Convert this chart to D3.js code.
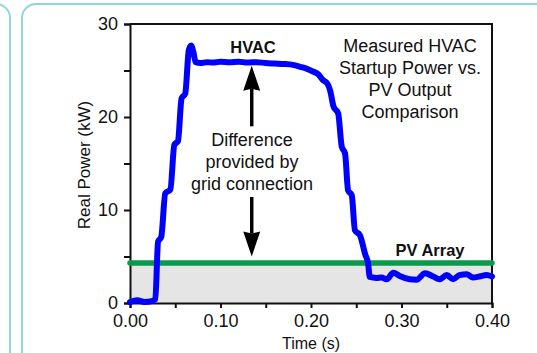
<!DOCTYPE html>
<html>
<head>
<meta charset="utf-8">
<script src="https://cdn.jsdelivr.net/npm/d3@7"></script>
<style>
  body { margin: 0; background: #fff; }
  text { font-family: "Liberation Sans", Arial, sans-serif; fill: #111; }
</style>
</head>
<body>
<div id="chart"></div>
<script>
// measured HVAC startup power (kW) over time (s)
var timeS = [0, 0.008, 0.016, 0.024, 0.028, 0.031, 0.0345, 0.039, 0.0446, 0.049,
  0.053, 0.057, 0.061, 0.065, 0.0675, 0.070, 0.0725, 0.078, 0.085, 0.092,
  0.100, 0.110, 0.120, 0.130, 0.140, 0.150, 0.160, 0.170, 0.180, 0.188,
  0.195, 0.202, 0.208, 0.213, 0.218, 0.221, 0.225, 0.230, 0.234, 0.2376,
  0.241, 0.245, 0.2486, 0.254, 0.260, 0.263, 0.265, 0.272, 0.278, 0.2836,
  0.291, 0.298, 0.309, 0.3166, 0.326, 0.335, 0.342, 0.350, 0.357, 0.364,
  0.372, 0.379, 0.386, 0.394, 0.400];
var hvacKW = [0.1, 0.3, 0.1, 0.2, 0.4, 6.6, 7.1, 11.8, 12.2, 17.0,
  17.4, 22.0, 22.5, 27.2, 27.7, 27.0, 25.9, 25.8, 25.9, 25.85,
  25.95, 25.9, 25.95, 25.85, 25.9, 25.8, 25.75, 25.7, 25.6, 25.4,
  25.2, 24.9, 24.6, 24.0, 23.6, 22.9, 21.1, 20.4, 16.8, 16.1,
  12.1, 11.6, 7.8, 7.3, 5.2, 4.3, 2.8, 2.7, 2.75, 2.55,
  3.25, 2.9, 2.55, 2.5, 3.2, 2.85, 2.55, 3.0, 2.55, 3.0,
  3.1, 2.75, 2.85, 3.0, 2.85];

var pvKW = 4.3;                       // PV array output
var xTicks = [0, 0.05, 0.10, 0.15, 0.20, 0.25, 0.30, 0.35, 0.40];
var yTicks = [0, 5, 10, 15, 20, 25, 30];
var titleLines = ["Measured HVAC", "Startup Power vs.", "PV Output", "Comparison"];
var diffLines = ["Difference", "provided by", "grid connection"];

var W = 537, H = 353;
var svg = d3.select("#chart").append("svg")
  .attr("width", W).attr("height", H);

// panel frames
svg.append("rect").attr("x", -30).attr("y", 4).attr("width", 40).attr("height", 420)
  .attr("rx", 14).attr("fill", "none").attr("stroke", "#8dd7da").attr("stroke-width", 2);
svg.append("rect").attr("x", 22).attr("y", 4).attr("width", 600).attr("height", 420)
  .attr("rx", 14).attr("fill", "none").attr("stroke", "#8dd7da").attr("stroke-width", 2);

var x = d3.scaleLinear().domain([0, 0.4]).range([130, 492]);
var y = d3.scaleLinear().domain([0, 30]).range([303, 24]);

// grey area under PV output
svg.append("rect")
  .attr("x", x(0)).attr("y", y(pvKW))
  .attr("width", x(0.4) - x(0)).attr("height", y(0) - y(pvKW))
  .attr("fill", "#e5e5e5");

// axes
var gx = svg.append("g")
  .attr("transform", "translate(0," + y(0) + ")")
  .call(d3.axisBottom(x).tickValues(xTicks).tickSize(5).tickPadding(6)
    .tickFormat(function (d) { return Math.round(d * 100) % 10 === 0 ? d3.format(".2f")(d) : ""; }));
var gy = svg.append("g")
  .attr("transform", "translate(" + x(0) + ",0)")
  .call(d3.axisLeft(y).tickValues(yTicks).tickSize(6).tickPadding(6)
    .tickFormat(function (d) { return d % 10 === 0 ? d : ""; }));
[gx, gy].forEach(function (g) {
  g.selectAll("path.domain").attr("stroke", "#111").attr("stroke-width", 2);
  g.selectAll(".tick line").attr("stroke", "#111").attr("stroke-width", 2);
  g.selectAll(".tick text").attr("font-size", 18).attr("font-family", "Liberation Sans").attr("fill", "#111");
});

// top and right frame
svg.append("path")
  .attr("d", "M" + x(0) + "," + y(30) + "H" + x(0.4) + "V" + y(0))
  .attr("fill", "none").attr("stroke", "#111").attr("stroke-width", 2);

// PV line
svg.append("line")
  .attr("x1", x(0)).attr("x2", x(0.4))
  .attr("y1", y(pvKW)).attr("y2", y(pvKW))
  .attr("stroke", "#0a9a4e").attr("stroke-width", 5.5).attr("stroke-linecap", "round");

// HVAC line
var line = d3.line()
  .x(function (d, i) { return x(timeS[i]); })
  .y(function (d) { return y(d); })
  .curve(d3.curveMonotoneX);
svg.append("path")
  .attr("d", line(hvacKW))
  .attr("fill", "none").attr("stroke", "#0000ff").attr("stroke-width", 6)
  .attr("stroke-linejoin", "round").attr("stroke-linecap", "round");

// arrows
var arrowT = 0.1345;
function arrow(fromV, toV) {
  var ax = x(arrowT), y0 = y(fromV), y1 = y(toV);
  var dir = y1 < y0 ? 1 : -1;           // 1 = pointing up
  var headBase = y1 + dir * 23;
  svg.append("line").attr("x1", ax).attr("x2", ax).attr("y1", y0).attr("y2", headBase)
    .attr("stroke", "#000").attr("stroke-width", 3.5);
  svg.append("path")
    .attr("d", "M" + ax + "," + y1 + "L" + (ax - 8.5) + "," + (headBase + dir * 2) +
      "L" + ax + "," + headBase + "L" + (ax + 8.5) + "," + (headBase + dir * 2) + "Z")
    .attr("fill", "#000");
}
arrow(19, 25.5);
arrow(11.4, 5.0);

// text labels
svg.append("text").attr("x", 253).attr("y", 53).attr("text-anchor", "middle")
  .attr("font-size", 16.5).attr("font-weight", "bold").text("HVAC");
svg.append("text").attr("x", 430).attr("y", 256).attr("text-anchor", "middle")
  .attr("font-size", 16.5).attr("font-weight", "bold").text("PV Array");

svg.append("g").selectAll("text").data(titleLines).enter().append("text")
  .attr("x", 410).attr("y", function (d, i) { return 52 + i * 22; })
  .attr("text-anchor", "middle").attr("font-size", 18).text(function (d) { return d; });

svg.append("g").selectAll("text").data(diffLines).enter().append("text")
  .attr("x", 252).attr("y", function (d, i) { return 146 + i * 22; })
  .attr("text-anchor", "middle").attr("font-size", 18).text(function (d) { return d; });

svg.append("text")
  .attr("transform", "translate(90,165) rotate(-90)")
  .attr("text-anchor", "middle").attr("font-size", 17).text("Real Power (kW)");
svg.append("text").attr("x", 311).attr("y", 349)
  .attr("text-anchor", "middle").attr("font-size", 16).text("Time (s)");
</script>
</body>
</html>
